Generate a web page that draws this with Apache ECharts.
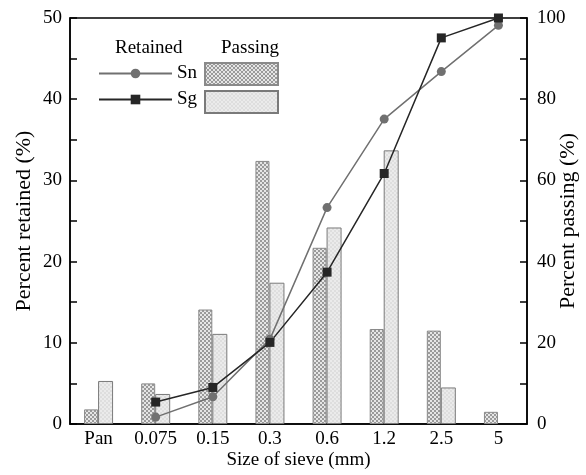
<!DOCTYPE html>
<html><head><meta charset="utf-8">
<script src="https://cdn.jsdelivr.net/npm/echarts@6/dist/echarts.min.js"></script>
<style>html,body{margin:0;padding:0;background:#fff}#c{width:586px;height:475px}</style>
</head><body><div id="c"></div>
<script>
var categories = ['Pan','0.075','0.15','0.3','0.6','1.2','2.5','5'];
var snRetained = [1.8, 5.0, 14.1, 32.4, 21.7, 11.7, 11.5, 1.5];
var sgRetained = [5.3, 3.7, 11.1, 17.4, 24.2, 33.7, 4.5, '-'];
var snPassing = ['-', 1.7, 6.7, 20.9, 53.3, 75.1, 86.8, 98.2];
var sgPassing = ['-', 5.4, 9.0, 20.1, 37.4, 61.7, 95.1, 100];
var leftTicks = [0, 10, 20, 30, 40, 50];
var rightTicks = [0, 20, 40, 60, 80, 100];

function makePattern(a, b, cell) {
  var cv = document.createElement('canvas');
  cv.width = cell * 2; cv.height = cell * 2;
  var ctx = cv.getContext('2d');
  ctx.fillStyle = b; ctx.fillRect(0, 0, cell * 2, cell * 2);
  ctx.fillStyle = a;
  ctx.fillRect(0, 0, cell, cell);
  ctx.fillRect(cell, cell, cell, cell);
  return cv;
}
var snPat = { image: makePattern('#9a9a9a', '#e6e6e6', 2), repeat: 'repeat' };
var sgPat = { image: makePattern('#dedede', '#ebebeb', 2), repeat: 'repeat' };

var font = 'Liberation Serif';
var fs = 19;
var chart = echarts.init(document.getElementById('c'), null, { renderer: 'canvas' });
chart.setOption({
  animation: false,
  textStyle: { fontFamily: font },
  grid: { left: 70, right: 59, top: 18, bottom: 51, show: true, borderColor: '#000', borderWidth: 1.5,
    backgroundColor: 'transparent', containLabel: false, outerBoundsMode: 'none' },
  graphic: [
    { type: 'text', left: 115, top: 39, style: { text: 'Retained', font: fs + 'px "' + font + '"', fill: '#000' } },
    { type: 'text', left: 221, top: 39, style: { text: 'Passing', font: fs + 'px "' + font + '"', fill: '#000' } }
  ],
  legend: [
    { data: ['Sn', 'Sg'], orient: 'vertical', left: 98, top: 64, itemWidth: 73, itemHeight: 12, itemGap: 7, padding: 0,
      textStyle: { fontFamily: font, fontSize: fs, color: '#000' } },
    { data: [{ name: 'Sn bar', icon: 'rect' }, { name: 'Sg bar', icon: 'rect' }], orient: 'vertical', left: 204, top: 62,
      itemWidth: 73, itemHeight: 22, itemGap: 4, padding: 0,
      formatter: function () { return ''; }, textStyle: { fontSize: 1 } }
  ],
  xAxis: {
    type: 'category', data: categories,
    name: 'Size of sieve (mm)', nameLocation: 'middle', nameGap: 27, nameMoveOverlap: false,
    nameTextStyle: { fontFamily: font, fontSize: fs, color: '#000' },
    axisLine: { lineStyle: { color: '#000', width: 1.5 } },
    axisTick: { show: false },
    axisLabel: { fontFamily: font, fontSize: fs, color: '#000', margin: 6, interval: 0 }
  },
  yAxis: [
    { type: 'value', min: leftTicks[0], max: leftTicks[leftTicks.length - 1], interval: 10,
      name: 'Percent retained (%)', nameLocation: 'middle', nameGap: 35, nameMoveOverlap: false,
      nameTextStyle: { fontFamily: font, fontSize: 22, color: '#000' },
      axisLine: { show: true, lineStyle: { color: '#000', width: 1.5 } },
      axisTick: { show: true, inside: true, length: 7, lineStyle: { color: '#000', width: 1.5 } },
      minorTick: { show: true, splitNumber: 2, length: 7, lineStyle: { color: '#000', width: 1.5 } },
      splitLine: { show: false },
      axisLabel: { fontFamily: font, fontSize: fs, color: '#000', margin: 8 } },
    { type: 'value', min: rightTicks[0], max: rightTicks[rightTicks.length - 1], interval: 20, position: 'right',
      name: 'Percent passing (%)', nameLocation: 'middle', nameGap: 30, nameRotate: 90, nameMoveOverlap: false,
      nameTextStyle: { fontFamily: font, fontSize: 22, color: '#000' },
      axisLine: { show: true, lineStyle: { color: '#000', width: 1.5 } },
      axisTick: { show: true, inside: true, length: 7, lineStyle: { color: '#000', width: 1.5 } },
      minorTick: { show: true, splitNumber: 2, length: 7, lineStyle: { color: '#000', width: 1.5 } },
      splitLine: { show: false },
      axisLabel: { fontFamily: font, fontSize: fs, color: '#000', margin: 10 } }
  ],
  series: [
    { name: 'Sn bar', type: 'bar', yAxisIndex: 0, data: snRetained, barWidth: 14, barGap: '0%',
      itemStyle: { color: snPat, borderColor: '#8a8a8a', borderWidth: 1 } },
    { name: 'Sg bar', type: 'bar', yAxisIndex: 0, data: sgRetained, barWidth: 15, barGap: '0%',
      itemStyle: { color: sgPat, borderColor: '#7a7a7a', borderWidth: 1 } },
    { name: 'Sn', type: 'line', yAxisIndex: 1, data: snPassing, symbol: 'circle', symbolSize: 9,
      lineStyle: { color: '#707070', width: 1.5 }, itemStyle: { color: '#707070' } },
    { name: 'Sg', type: 'line', yAxisIndex: 1, data: sgPassing, symbol: 'rect', symbolSize: 9,
      lineStyle: { color: '#262626', width: 1.5 }, itemStyle: { color: '#262626' } }
  ]
});
</script></body></html>
